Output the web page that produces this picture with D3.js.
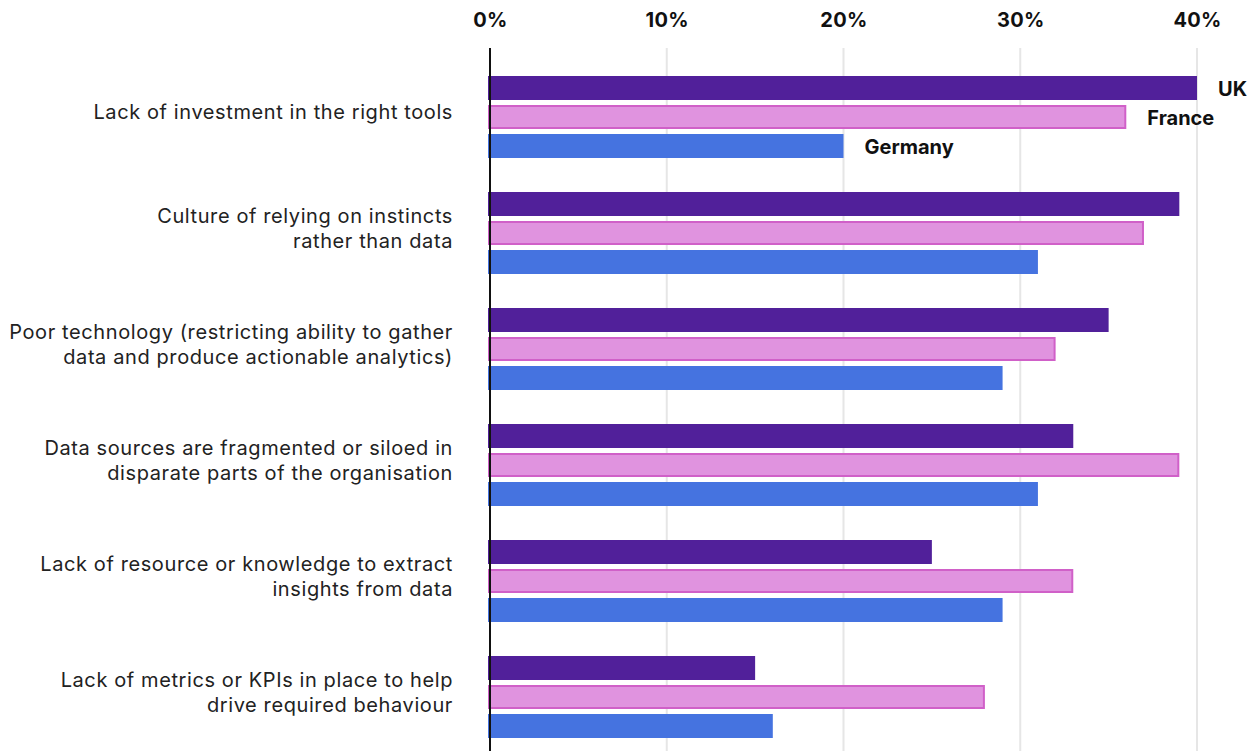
<!DOCTYPE html>
<html>
<head>
<meta charset="utf-8">
<script src="https://cdn.jsdelivr.net/npm/d3@7"></script>
<style>
  body { margin: 0; background: #fff; }
  svg { font-family: Inter, "Noto Sans", sans-serif; }
</style>
</head>
<body>
<svg id="chart" width="1259" height="751"></svg>
<script>
const categories = [
  ["Lack of investment in the right tools"],
  ["Culture of relying on instincts", "rather than data"],
  ["Poor technology (restricting ability to gather", "data and produce actionable analytics)"],
  ["Data sources are fragmented or siloed in", "disparate parts of the organisation"],
  ["Lack of resource or knowledge to extract", "insights from data"],
  ["Lack of metrics or KPIs in place to help", "drive required behaviour"]
];
const seriesNames = ["UK", "France", "Germany"];
const uk      = [40, 39, 35, 33, 25, 15];
const france  = [36, 37, 32, 39, 33, 28];
const germany = [20, 31, 29, 31, 29, 16];
const ticks = [0, 10, 20, 30, 40];

const values = [uk, france, germany];
const fills = ["#51209a", "#e093df", "#4573e0"];
const strokes = [null, "#d060c8", null];

const svg = d3.select("#chart");
const x = d3.scaleLinear().domain([0, 40]).range([490, 1197]);
const y = d3.scaleBand().domain(d3.range(categories.length)).range([76, 76 + 116 * 6 - 34]).paddingInner(34 / 116).paddingOuter(0);
const yi = d3.scaleBand().domain(d3.range(3)).range([0, y.bandwidth()]).paddingInner(5 / 29).paddingOuter(0);

// gridlines
svg.append("g").selectAll("line").data(ticks.slice(1)).enter().append("line")
  .attr("x1", d => x(d)).attr("x2", d => x(d))
  .attr("y1", 48).attr("y2", 751)
  .attr("stroke", "#e6e6e6").attr("stroke-width", 2);

// top axis labels
const axis = d3.axisTop(x).tickValues(ticks).tickFormat(d => d + "%").tickSize(0).tickPadding(0);
const ax = svg.append("g").attr("transform", "translate(0,27)").call(axis);
ax.select(".domain").remove();
ax.selectAll("text").attr("font-size", 20).attr("font-weight", 700).attr("fill", "#111")
  .attr("font-family", "Inter, sans-serif").attr("letter-spacing", 0.3);

// bars
categories.forEach((c, i) => {
  const g = svg.append("g").attr("transform", `translate(0,${y(i)})`);
  values.forEach((vals, s) => {
    const r = g.append("rect")
      .attr("x", x(0) - 2)
      .attr("y", yi(s))
      .attr("width", x(vals[i]) - x(0) + 2)
      .attr("height", yi.bandwidth())
      .attr("fill", fills[s]);
    if (strokes[s]) {
      r.attr("x", x(0) - 1).attr("y", yi(s) + 1)
        .attr("width", x(vals[i]) - x(0)).attr("height", yi.bandwidth() - 2)
        .attr("stroke", strokes[s]).attr("stroke-width", 2);
    }
  });
  const t = svg.append("text")
    .attr("text-anchor", "end")
    .attr("font-size", 20)
    .attr("letter-spacing", 0.6)
    .attr("fill", "#222")
    .attr("dominant-baseline", "central");
  const cy = y(i) + y.bandwidth() / 2 - 5;
  c.forEach((line, k) => {
    t.append("tspan").attr("x", 453).attr("y", cy + (k - (c.length - 1) / 2) * 25).text(line);
  });
});

// series labels on first group
seriesNames.forEach((n, s) => {
  svg.append("text")
    .attr("x", x(values[s][0]) + 21)
    .attr("y", y(0) + yi(s) + yi.bandwidth() / 2 + 1)
    .attr("dominant-baseline", "central")
    .attr("font-size", 20).attr("font-weight", 700).attr("fill", "#111")
    .text(n);
});

// zero axis line
svg.append("line").attr("x1", x(0)).attr("x2", x(0)).attr("y1", 48).attr("y2", 751)
  .attr("stroke", "#111").attr("stroke-width", 2);
</script>
</body>
</html>
